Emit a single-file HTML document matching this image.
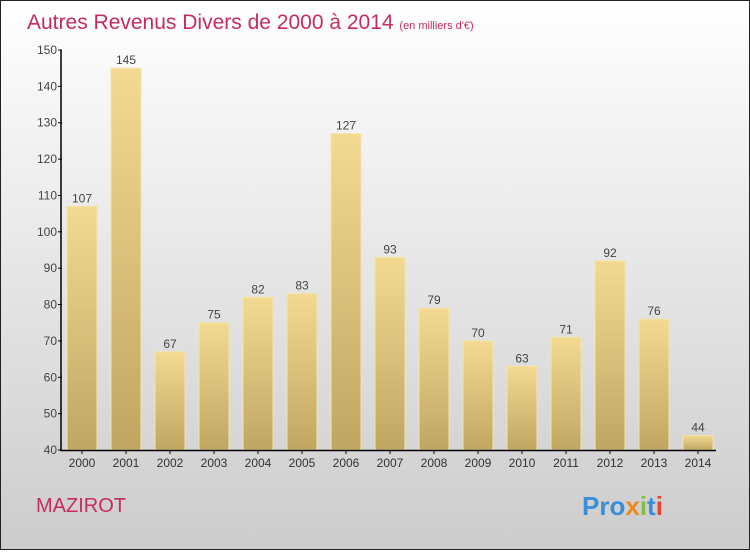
<!DOCTYPE html>
<html><head><meta charset="utf-8"><style>
body{margin:0;width:750px;height:550px;overflow:hidden;font-family:"Liberation Sans",sans-serif}
</style></head><body>
<svg id="c" width="750" height="550">
<defs>
<linearGradient id="bg" x1="0" y1="0" x2="0" y2="1"><stop offset="0" stop-color="#ffffff"/><stop offset="1" stop-color="#cccccc"/></linearGradient>
<linearGradient id="bar" x1="0" y1="0" x2="0" y2="1"><stop offset="0" stop-color="#f3da93"/><stop offset="1" stop-color="#c0a663"/></linearGradient>
</defs>
<rect x="0.5" y="0.5" width="749" height="549" fill="url(#bg)" stroke="#222"/>
<text x="27" y="29" font-size="21" fill="#c72c5c">Autres Revenus Divers de 2000 à 2014 <tspan font-size="11">(en milliers d'€)</tspan></text>
<text x="36" y="512" font-size="20" fill="#c72c5c">MAZIROT</text>
<text x="582" y="515" font-size="26" font-weight="bold"><tspan fill="#3a8fd8">Pro</tspan><tspan fill="#f08a1c">x</tspan><tspan fill="#7cc243">i</tspan><tspan fill="#3a8fd8">t</tspan><tspan fill="#e8432e">i</tspan></text>
<g id="g"></g>
</svg>
<script>
const years=["2000","2001","2002","2003","2004","2005","2006","2007","2008","2009","2010","2011","2012","2013","2014"];
const values=[107,145,67,75,82,83,127,93,79,70,63,71,92,76,44];
const yTicks=[40,50,60,70,80,90,100,110,120,130,140,150];
const ns="http://www.w3.org/2000/svg",g=document.getElementById('g');
const y=v=>450-(v-40)*400/110, x=i=>82+i*44;
function el(t,a){const e=document.createElementNS(ns,t);for(const k in a)e.setAttribute(k,a[k]);g.appendChild(e);return e;}
values.forEach((v,i)=>{
 const r=el('rect',{x:x(i)-15,y:y(v),width:30,height:450-y(v),fill:'url(#bar)',stroke:'#f5e4a6','stroke-width':1});
 
 
 const t=el('text',{x:x(i),y:y(v)-4,'font-size':12,fill:'#444','text-anchor':'middle'});t.textContent=v;
 
 
 const l=el('text',{x:x(i),y:467,'font-size':12,fill:'#333','text-anchor':'middle'});l.textContent=years[i];
 
 
 el('line',{x1:x(i),x2:x(i),y1:450,y2:454,stroke:'#000'});
});
yTicks.forEach(v=>{
 el('line',{x1:58,x2:62,y1:y(v),y2:y(v),stroke:'#000'});
 const t=el('text',{x:57,y:y(v)+4,'font-size':12,fill:'#444','text-anchor':'end'});t.textContent=v;
 
 
});
const ax=el('path',{d:'M61 50V450.5H716',stroke:'#000','stroke-width':1.5,fill:'none'});


</script>
</body></html>
